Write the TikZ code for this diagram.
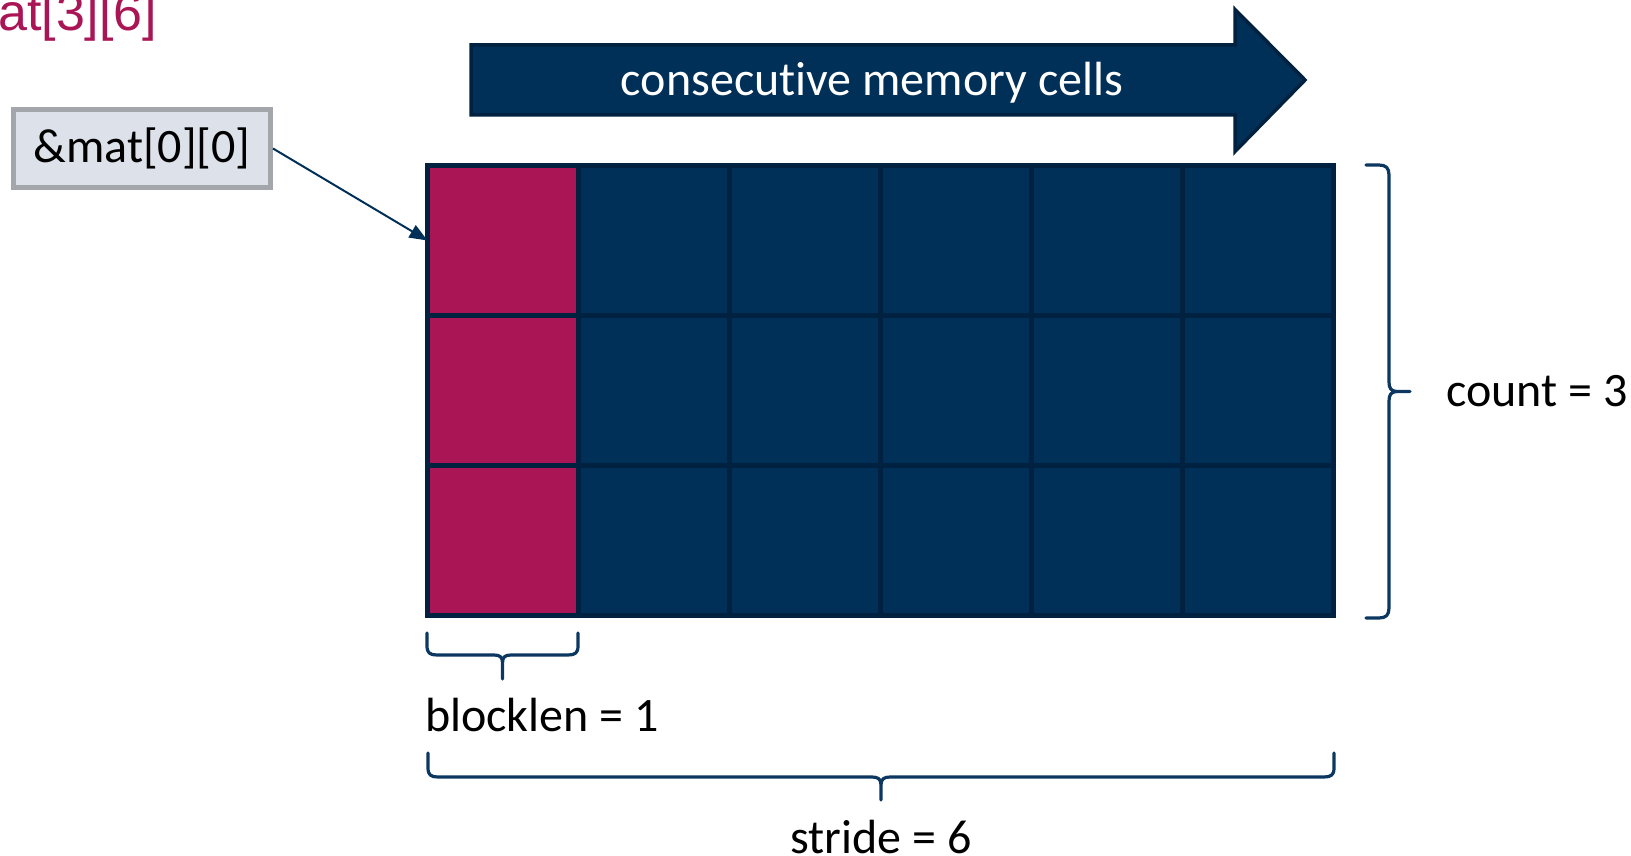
\documentclass[tikz,border=0pt]{standalone}
\usepackage{fontspec}
\setmainfont{Carlito}[Ligatures=NoCommon]
\newfontfamily\arialfont{Liberation Sans}
\usetikzlibrary{arrows.meta}
\definecolor{navy}{HTML}{003057}
\definecolor{navyline}{HTML}{00213F}
\definecolor{bracecol}{HTML}{0B3761}
\definecolor{berry}{HTML}{AA1655}
\definecolor{boxfill}{HTML}{DCE1EA}
\definecolor{boxline}{HTML}{A3A7AC}
\tikzset{
  cell/.style={rectangle, draw=navyline, line width=5pt, minimum width=151pt,
    minimum height=150pt, inner sep=0pt, outer sep=0pt, fill=navy},
  hot/.style={fill=berry},
  big/.style={font=\fontsize{48}{57}\selectfont, inner sep=0pt},
  bracepath/.style={draw=bracecol, line width=3.2pt, line cap=round, line join=round},
  ptr/.style={draw=navy, line width=2pt, -{Triangle[length=18pt, width=14pt]}},
}
\begin{document}
\begin{tikzpicture}[x=1pt, y=-1pt]
\useasboundingbox (0,0) rectangle (1631,856);

% declaration of the matrix, partly outside the page
\node[big, font=\arialfont\fontsize{52}{62}\selectfont, text=berry, anchor=base west]
  (decl) at (-2,31) {at[3][6]};

% direction of memory
\path[fill=navy, draw=navyline, line width=3.5pt, line join=miter]
  (471,45) -- (1235,45) -- (1235,9.5) -- (1305,80) -- (1235,151.5) -- (1235,115)
  -- (471,115) -- cycle;
\node[big, text=white, anchor=base] (dir) at (872,96) {consecutive memory cells};

% the 3x6 matrix
\foreach \r in {0,1,2}{
  \foreach \c in {0,...,5}{
    \node[cell] (c-\r-\c) at ({503+151*\c},{240.5+150*\r}) {};
  }
}
\foreach \r in {0,1,2}{
  \node[cell, hot] at (c-\r-0) {};
}

% address label
\node[big, draw=boxline, fill=boxfill, line width=5pt, minimum width=257pt,
  minimum height=78pt] (addr) at (142,148.5) {\&mat[0][0]};
\draw[ptr] (addr.east) -- (c-0-0.west);

% blocklen brace
\draw[bracepath] (427,633) -- (427,646) .. controls (427,653) and (430,655) .. (437,655)
  -- (494,655) .. controls (500,655) and (502.5,657) .. (502.5,663) -- (502.5,679)
  (502.5,663) .. controls (502.5,657) and (505,655) .. (511,655)
  -- (568,655) .. controls (575,655) and (578,653) .. (578,646) -- (578,633);
\node[big, anchor=base west] (blen) at (425,731) {blocklen = 1};

% stride brace
\draw[bracepath] (428,753) -- (428,768) .. controls (428,775) and (431,777) .. (438,777)
  -- (872,777) .. controls (878,777) and (881,779) .. (881,785) -- (881,800)
  (881,785) .. controls (881,779) and (884,777) .. (890,777)
  -- (1324,777) .. controls (1331,777) and (1334,775) .. (1334,768) -- (1334,753);
\node[big, anchor=base] (strd) at (881,853) {stride = 6};

% count brace
\draw[bracepath] (1366,165) -- (1379,165) .. controls (1386,165) and (1389,168) .. (1389,175)
  -- (1389,382) .. controls (1389,388) and (1391,391.5) .. (1397,391.5) -- (1410,391.5)
  (1397,391.5) .. controls (1391,391.5) and (1389,395) .. (1389,401)
  -- (1389,608) .. controls (1389,615) and (1386,618) .. (1379,618) -- (1366,618);
\node[big, anchor=base west] (cnt) at (1446,406) {count = 3};
\end{tikzpicture}
\end{document}
